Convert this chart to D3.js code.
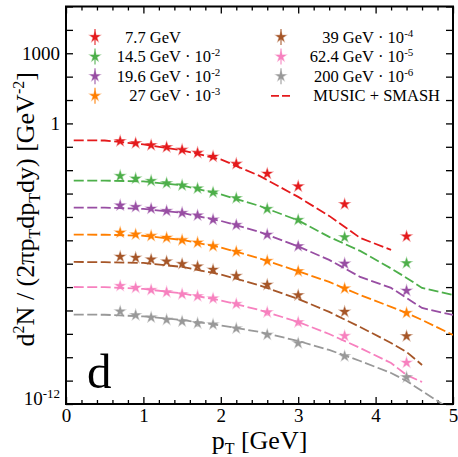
<!DOCTYPE html>
<html>
<head>
<meta charset="utf-8">
<script src="https://cdn.jsdelivr.net/npm/d3@7"></script>
<style>
  body { margin: 0; background: #fff; }
  text { font-family: "Liberation Serif", "DejaVu Serif", serif; fill: #000; }
</style>
</head>
<body>
<svg id="chart" width="458" height="457"></svg>
<script>
// collision energies, scale factor exponents (legend "· 10^n") and colours
const energies = ["7.7", "14.5", "19.6", "27", "39", "62.4", "200"];
const scaleExp = [0, -2, -2, -3, -4, -5, -6];
const colors = ["#e41a1c", "#4daf4a", "#984ea3", "#ff7f00", "#a65628", "#f781bf", "#999999"];

// measured points (already multiplied by the legend factor)
const ptData = [0.7, 0.9, 1.1, 1.3, 1.5, 1.7, 1.9, 2.2, 2.6, 3.0, 3.6, 4.4];
const data7p7  = [0.174, 0.143, 0.117, 0.0964, 0.0739, 0.055, 0.0379, 0.0186, 0.00708, 0.00203, 3.5e-4, 1.47e-5];
const data14p5 = [5.7e-3, 4.38e-3, 3.48e-3, 2.78e-3, 2.24e-3, 1.66e-3, 1.12e-3, 6.34e-4, 2.21e-4, 7.46e-5, 1.36e-5, 1.05e-6];
const data19p6 = [3.12e-4, 2.69e-4, 2.25e-4, 1.81e-4, 1.49e-4, 1.16e-4, 7.69e-5, 4.56e-5, 1.75e-5, 5.6e-6, 1.01e-6, 7.05e-8];
const data27   = [2.14e-5, 1.79e-5, 1.55e-5, 1.29e-5, 1.02e-5, 7.98e-6, 5.65e-6, 3.26e-6, 1.32e-6, 4.76e-7, 8.75e-8, 7.83e-9];
const data39   = [1.99e-6, 1.8e-6, 1.52e-6, 1.25e-6, 9.8e-7, 7.66e-7, 5.52e-7, 3.0e-7, 1.26e-7, 4.48e-8, 8.81e-9, 7.96e-10];
const data62p4 = [1.12e-7, 9.37e-8, 7.55e-8, 6.08e-8, 4.99e-8, 4.1e-8, 3.27e-8, 1.9e-8, 8.39e-9, 3.13e-9, 8.13e-10, 5.85e-11];
const data200  = [9.08e-9, 6.31e-9, 5.02e-9, 4.01e-9, 3.39e-9, 2.84e-9, 2.52e-9, 1.7e-9, 9.23e-10, 4.0e-10, 1.11e-10, 1.39e-11];

// MUSIC + SMASH curves
const ptModel = [0.1, 0.5, 1.0, 1.5, 2.0, 2.5, 3.0, 3.4, 3.8, 4.2, 4.4, 4.6, 5.0];
const model7p7  = [0.188, 0.186, 0.127, 0.0703, 0.029, 0.0057, 7.2e-4, 1.11e-4, 1.27e-5, 3.9e-6, null, null, null];
const model14p5 = [3.59e-3, 3.57e-3, 3.32e-3, 2.24e-3, 9.2e-4, 2.96e-4, 7.11e-5, 1.4e-5, 3.52e-6, 6.28e-7, 2.47e-7, 9.2e-8, 4.61e-8];
const model19p6 = [2.51e-4, 2.5e-4, 2.21e-4, 1.49e-4, 6.78e-5, 2.29e-5, 5.48e-6, 1.45e-6, 2.72e-7, 9.2e-8, 3.44e-8, 1.28e-8, 6.43e-9];
const model27   = [1.74e-5, 1.73e-5, 1.57e-5, 1.04e-5, 4.98e-6, 1.68e-6, 4.76e-7, 1.66e-7, 4.61e-8, 1.42e-8, 7.83e-9, 3.93e-9, 8.98e-10];
const model39   = [1.19e-6, 1.16e-6, 1.08e-6, 7.28e-7, 3.48e-7, 1.18e-7, 3.11e-8, 8.65e-9, 1.97e-9, 4.07e-10, 1.68e-10, 4.67e-11, null];
const model62p4 = [1.01e-7, 9.95e-8, 8.34e-8, 5.35e-8, 2.69e-8, 1.05e-8, 3.23e-9, 9.88e-10, 2.49e-10, 5.67e-11, 1.74e-11, 8.73e-12, null];
const model200  = [6.62e-9, 6.57e-9, 5.55e-9, 3.93e-9, 2.29e-9, 1.21e-9, 4.97e-10, 2.05e-10, 6.92e-11, 2.12e-11, 9.64e-12, 3.6e-12, 5.0e-13];

const dataSets = [data7p7, data14p5, data19p6, data27, data39, data62p4, data200];
const modelSets = [model7p7, model14p5, model19p6, model27, model39, model62p4, model200];

const xTicks = [0, 1, 2, 3, 4, 5];
const yLabelled = [1e-12, 1, 1000];

const W = 458, H = 457;
const margin = {top: 6.5, right: 5, bottom: 53, left: 66};

const svg = d3.select("#chart");

const x = d3.scaleLinear().domain([0, 5]).range([margin.left, W - margin.right]);
const y = d3.scaleLog().domain([1e-12, 1e5]).range([H - margin.bottom, margin.top]);

svg.append("clipPath").attr("id", "plotclip")
  .append("rect")
    .attr("x", margin.left).attr("y", margin.top)
    .attr("width", W - margin.left - margin.right)
    .attr("height", H - margin.top - margin.bottom);

// little helper for sub/superscripts
function rich(textSel, parts, supSize, shift) {
  let off = 0;
  parts.forEach(p => {
    const target = p.sup ? -shift : p.sub ? shift * 0.6 : 0;
    const ts = textSel.append("tspan").text(p.t).attr("dy", target - off);
    if (p.sup || p.sub) ts.style("font-size", supSize + "px");
    off = target;
  });
}

// ---- axes ----
const decades = d3.range(-12, 6).map(e => Math.pow(10, e));
const minorX = d3.range(0, 5.01, 0.2).filter(v => Math.abs(v - Math.round(v)) > 1e-6);

const gx = svg.append("g").attr("transform", `translate(0,${H - margin.bottom})`)
  .call(d3.axisBottom(x).tickValues(xTicks).tickSize(-7).tickPadding(5).tickFormat(d3.format("d")));
svg.append("g").attr("transform", `translate(0,${H - margin.bottom})`)
  .call(d3.axisBottom(x).tickValues(minorX).tickSize(-4).tickFormat(""));
svg.append("g").attr("transform", `translate(0,${margin.top})`)
  .call(d3.axisTop(x).tickValues(xTicks).tickSize(-7).tickFormat(""));
svg.append("g").attr("transform", `translate(0,${margin.top})`)
  .call(d3.axisTop(x).tickValues(minorX).tickSize(-4).tickFormat(""));

const gy = svg.append("g").attr("transform", `translate(${margin.left},0)`)
  .call(d3.axisLeft(y).tickValues(decades).tickSize(-7).tickPadding(6)
    .tickFormat(d => yLabelled.includes(d) && d >= 1 ? d3.format("d")(d) : ""));
svg.append("g").attr("transform", `translate(${W - margin.right},0)`)
  .call(d3.axisRight(y).tickValues(decades).tickSize(-7).tickFormat(""));

svg.selectAll(".domain").remove();
svg.selectAll(".tick line").attr("stroke", "#000").attr("stroke-width", 1.3);
gx.selectAll("text").style("font-size", "19px").style("font-family", "Liberation Serif");
gy.selectAll("text").style("font-size", "19px").style("font-family", "Liberation Serif");

// 10^-12 label with superscript
const lowTick = gy.selectAll(".tick").filter(d => d === 1e-12).select("text");
lowTick.text(null).attr("dy", "0.32em");
rich(lowTick, [{t: "10"}, {t: "-12", sup: true}], 13, 7);

// frame
svg.append("rect")
  .attr("x", margin.left).attr("y", margin.top)
  .attr("width", W - margin.left - margin.right)
  .attr("height", H - margin.top - margin.bottom)
  .attr("fill", "none").attr("stroke", "#000").attr("stroke-width", 2);

// axis titles
const xt = svg.append("text")
  .attr("x", x(2.5)).attr("y", 449)
  .attr("text-anchor", "middle").style("font-size", "26px");
rich(xt, [{t: "p"}, {t: "T", sub: true}, {t: " [GeV]"}], 16, 9);

const yt = svg.append("text")
  .attr("transform", `translate(34,${(margin.top + H - margin.bottom) / 2 + 4}) rotate(-90)`)
  .attr("text-anchor", "middle").style("font-size", "26px");
rich(yt, [{t: "d"}, {t: "2", sup: true}, {t: "N / (2πp"}, {t: "T", sub: true}, {t: "dp"}, {t: "T", sub: true},
          {t: "dy) [GeV"}, {t: "-2", sup: true}, {t: "]"}], 16, 10);

// panel letter
svg.append("text").attr("x", 87).attr("y", 388).style("font-size", "49px").text("d");

// ---- model curves ----
const plot = svg.append("g").attr("clip-path", "url(#plotclip)");
const line = d3.line()
  .defined(d => d[1] != null)
  .x(d => x(d[0]))
  .y(d => y(d[1]));

modelSets.forEach((vals, i) => {
  plot.append("path")
    .datum(ptModel.map((p, j) => [p, vals[j]]))
    .attr("fill", "none")
    .attr("stroke", colors[i])
    .attr("stroke-width", 1.8)
    .attr("stroke-dasharray", "10,3.5")
    .attr("d", line);
});

// ---- data stars ----
const star = d3.symbol().type(d3.symbolStar).size(32);
dataSets.forEach((vals, i) => {
  plot.append("g").selectAll("path")
    .data(ptData.map((p, j) => [p, vals[j]]))
    .join("path")
      .attr("d", star)
      .attr("transform", d => `translate(${x(d[0])},${y(d[1])})`)
      .attr("fill", colors[i])
      .attr("stroke", colors[i])
      .attr("stroke-opacity", 0.45)
      .attr("stroke-width", 1.2);
});

// ---- legend ----
const rowY = i => 37 + i * 19.6;
const columns = [
  {starX: 95, alignX: 181, rows: [0, 1, 2, 3]},
  {starX: 281, alignX: 374, rows: [4, 5, 6]}
];
const legend = svg.append("g").style("font-size", "16.5px");

columns.forEach(col => {
  col.rows.forEach((si, r) => {
    const yy = rowY(r);
    legend.append("line")
      .attr("x1", col.starX).attr("x2", col.starX)
      .attr("y1", yy - 8).attr("y2", yy + 8)
      .attr("stroke", colors[si]).attr("stroke-width", 1.5).attr("stroke-opacity", 0.7);
    legend.append("path").attr("d", star)
      .attr("transform", `translate(${col.starX},${yy})`)
      .attr("fill", colors[si]).attr("stroke", colors[si])
      .attr("stroke-opacity", 0.45).attr("stroke-width", 1.2);
    legend.append("text")
      .attr("x", col.alignX).attr("y", yy + 5.5)
      .attr("text-anchor", "end")
      .text(energies[si] + " GeV");
    if (scaleExp[si] !== 0) {
      const ft = legend.append("text").attr("x", col.alignX + 4).attr("y", yy + 5.5);
      rich(ft, [{t: "· 10"}, {t: String(scaleExp[si]), sup: true}], 11, 6);
    }
  });
});

// model entry
const my = rowY(3);
legend.append("line")
  .attr("x1", 271).attr("x2", 291).attr("y1", my).attr("y2", my)
  .attr("stroke", colors[0]).attr("stroke-width", 1.8).attr("stroke-dasharray", "8,3");
legend.append("text")
  .attr("x", 440).attr("y", my + 5.5)
  .attr("text-anchor", "end")
  .text("MUSIC + SMASH");
</script>
</body>
</html>
